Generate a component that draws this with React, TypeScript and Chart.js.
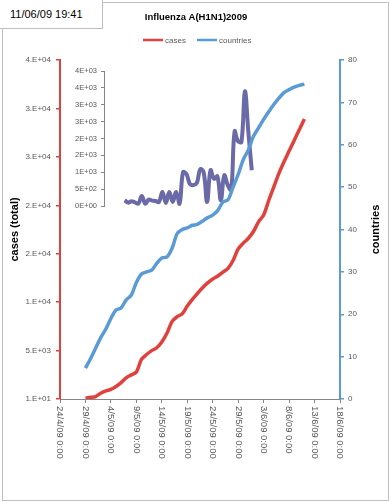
import React, { useEffect, useRef } from "react";
import { Chart, registerables } from "chart.js";

Chart.register(...registerables);

// ---------- data ----------
const dateStamp = "11/06/09 19:41";
const chartTitle = "Influenza A(H1N1)2009";
const seriesNames = ["cases", "countries"];
const leftAxisTitle = "cases (total)";
const rightAxisTitle = "countries";

// x axis: days since 24/4/09
const xTickDays = [0, 5, 10, 15, 20, 25, 30, 35, 40, 45, 50, 55];
const xTickLabels = [
  "24/4/09 0:00", "29/4/09 0:00", "4/5/09 0:00", "9/5/09 0:00",
  "14/5/09 0:00", "19/5/09 0:00", "24/5/09 0:00", "29/5/09 0:00",
  "3/6/09 0:00", "8/6/09 0:00", "13/6/09 0:00", "18/6/09 0:00",
];

const casesTickValues = [10, 5000, 10000, 15000, 20000, 25000, 30000, 35000];
const casesTickLabels = ["1.E+01", "5.E+03", "1.E+04", "2.E+04", "2.E+04", "3.E+04", "3.E+04", "4.E+04"];
const countriesTickValues = [0, 10, 20, 30, 40, 50, 60, 70, 80];
const countriesTickLabels = ["0", "10", "20", "30", "40", "50", "60", "70", "80"];
const insetTickValues = [0, 500, 1000, 1500, 2000, 2500, 3000, 3500, 4000];
const insetTickLabels = ["0E+00", "5E+02", "1E+03", "2E+03", "2E+03", "3E+03", "3E+03", "4E+03", "4E+03"];

// daily series starting 29/4/09 (day 5)
const seriesFirstDay = 5;
const cases = [
  100, 180, 260, 600, 850, 1000, 1300, 1700, 2200, 2500, 2800, 4100, 4600, 5000, 5300,
  5900, 6800, 8000, 8500, 8800, 9600, 10300, 10900, 11500, 12000, 12400, 12700, 13100,
  13500, 14300, 15500, 16100, 16600, 17300, 18300, 19000, 20500, 21900, 23300, 24500,
  25600, 26700, 27800, 28900,
];
const countries = [
  7.3, 9.5, 12, 14.5, 16.5, 19, 21, 21.5, 23.4, 24.5, 27.5, 29.5, 30, 30.4, 32, 33.3,
  33.5, 35.5, 39, 40, 40.4, 41, 41.2, 42, 42.8, 43.4, 44.5, 46.5, 47, 50, 53, 56.5, 58.8,
  62, 64, 66, 67.8, 69.5, 71, 72.3, 73, 73.6, 74, 74.3,
];

// inset: daily new cases starting 30/4/09 (day 6)
const insetFirstDay = 6;
const dailyNewCases = [
  170, 100, 140, 110, 70, 300, 70, 190, 160, 150, 120, 415, 90, 415, 120, 415, 70,
  1000, 950, 650, 620, 680, 1090, 1000, 120, 1060, 810, 880, 170, 910, 620, 480,
  2210, 1920, 1900, 3400, 2200, 1060,
];

// ---------- styles ----------
const RED = "#e2413b";
const BLUE = "#5b9bd5";
const PURPLE = "#6b6aa8";
const AXIS = "#868686";
const TEXT = "#595959";
const FONT = "'Liberation Sans', Arial, sans-serif";

const W = 390;
const H = 503;

const labelFor = (values: number[], labels: string[]) => (v: number | string) => {
  const i = values.indexOf(Number(v));
  return i >= 0 ? labels[i] : "";
};

export default function App() {
  const mainRef = useRef<HTMLCanvasElement | null>(null);
  const insetRef = useRef<HTMLCanvasElement | null>(null);

  useEffect(() => {
    if (!mainRef.current || !insetRef.current) return;

    const decor = {
      id: "decor",
      afterDraw(chart: any) {
        const ctx = chart.ctx as CanvasRenderingContext2D;
        ctx.save();
        // title
        ctx.fillStyle = "#000";
        ctx.font = `bold 9.5px ${FONT}`;
        ctx.textAlign = "center";
        ctx.textBaseline = "middle";
        ctx.fillText(chartTitle, 196, 17);
        // legend
        ctx.font = `8px ${FONT}`;
        ctx.textAlign = "left";
        const legendColors = [RED, BLUE];
        const legendX = [143, 197];
        seriesNames.forEach((name, i) => {
          ctx.strokeStyle = legendColors[i];
          ctx.lineWidth = 2.5;
          ctx.beginPath();
          ctx.moveTo(legendX[i], 40);
          ctx.lineTo(legendX[i] + 20, 40);
          ctx.stroke();
          ctx.fillStyle = TEXT;
          ctx.fillText(name, legendX[i] + 22, 40.5);
        });
        // right axis title (reads bottom to top)
        const area = chart.chartArea;
        ctx.save();
        ctx.translate(376, (area.top + area.bottom) / 2);
        ctx.rotate(-Math.PI / 2);
        ctx.font = `bold 11px ${FONT}`;
        ctx.fillStyle = "#000";
        ctx.textAlign = "center";
        ctx.textBaseline = "middle";
        ctx.fillText(rightAxisTitle, 0, 0);
        ctx.restore();
        // x tick labels rotated clockwise
        const xs = chart.scales.x;
        ctx.font = `9.5px ${FONT}`;
        ctx.fillStyle = TEXT;
        xTickDays.forEach((d, i) => {
          const px = xs.getPixelForValue(d);
          ctx.save();
          ctx.translate(px, xs.top + 7);
          ctx.rotate(Math.PI / 2);
          ctx.textAlign = "left";
          ctx.textBaseline = "middle";
          ctx.fillText(xTickLabels[i], 0, 0);
          ctx.restore();
        });
        ctx.restore();
      },
    };

    const main = new Chart(mainRef.current, {
      type: "line",
      data: {
        datasets: [
          {
            label: seriesNames[0],
            data: cases.map((v, i) => ({ x: seriesFirstDay + i, y: v })),
            yAxisID: "y",
            borderColor: RED,
            backgroundColor: RED,
            borderWidth: 3.5,
            pointRadius: 0,
            tension: 0.3,
          },
          {
            label: seriesNames[1],
            data: countries.map((v, i) => ({ x: seriesFirstDay + i, y: v })),
            yAxisID: "y1",
            borderColor: BLUE,
            backgroundColor: BLUE,
            borderWidth: 3.5,
            pointRadius: 0,
            tension: 0.3,
          },
        ],
      },
      options: {
        animation: false,
        responsive: false,
        events: [],
        layout: { padding: { top: 60, left: 0, right: 0, bottom: 0 } },
        plugins: { legend: { display: false }, title: { display: false }, tooltip: { enabled: false } },
        scales: {
          x: {
            type: "linear",
            min: 0,
            max: 55,
            afterBuildTicks: (s: any) => {
              s.ticks = xTickDays.map((v) => ({ value: v }));
            },
            afterFit: (s: any) => {
              s.height = 104;
            },
            ticks: { display: false },
            grid: { drawOnChartArea: false, color: AXIS, tickLength: 4 },
            border: { color: AXIS, width: 1 },
          },
          y: {
            type: "linear",
            position: "left",
            min: 10,
            max: 35000,
            afterBuildTicks: (s: any) => {
              s.ticks = casesTickValues.map((v) => ({ value: v }));
            },
            afterFit: (s: any) => {
              s.width = 60;
            },
            ticks: {
              callback: labelFor(casesTickValues, casesTickLabels),
              font: { family: FONT, size: 8 },
              color: TEXT,
              padding: 5,
            },
            grid: { drawOnChartArea: false, color: RED, tickLength: 4, lineWidth: 1.5 },
            border: { color: RED, width: 2 },
            title: {
              display: true,
              text: leftAxisTitle,
              color: "#000",
              font: { family: FONT, size: 11, weight: "bold" },
              padding: { top: 8, bottom: 0 },
            },
          },
          y1: {
            type: "linear",
            position: "right",
            min: 0,
            max: 80,
            afterBuildTicks: (s: any) => {
              s.ticks = countriesTickValues.map((v) => ({ value: v }));
            },
            afterFit: (s: any) => {
              s.width = 50;
            },
            ticks: {
              callback: labelFor(countriesTickValues, countriesTickLabels),
              font: { family: FONT, size: 8 },
              color: TEXT,
              padding: 4,
            },
            grid: { drawOnChartArea: false, color: BLUE, tickLength: 4, lineWidth: 1.5 },
            border: { color: BLUE, width: 2 },
          },
        },
      },
      plugins: [decor],
    } as any);

    const inset = new Chart(insetRef.current, {
      type: "line",
      data: {
        datasets: [
          {
            label: "daily",
            data: dailyNewCases.map((v, i) => ({ x: insetFirstDay + i, y: v })),
            borderColor: PURPLE,
            backgroundColor: PURPLE,
            borderWidth: 4,
            pointRadius: 0,
            tension: 0.4,
          },
        ],
      },
      options: {
        animation: false,
        responsive: false,
        events: [],
        layout: { padding: { top: 71, left: 64, right: 97, bottom: 297 } },
        plugins: { legend: { display: false }, title: { display: false }, tooltip: { enabled: false } },
        scales: {
          x: { type: "linear", min: 0, max: 55, display: false },
          y: {
            type: "linear",
            min: 0,
            max: 4000,
            afterBuildTicks: (s: any) => {
              s.ticks = insetTickValues.map((v) => ({ value: v }));
            },
            afterFit: (s: any) => {
              s.width = 40;
            },
            ticks: {
              callback: labelFor(insetTickValues, insetTickLabels),
              font: { family: FONT, size: 7.5 },
              color: TEXT,
              padding: 4,
            },
            grid: { drawOnChartArea: false, color: AXIS, tickLength: 3 },
            border: { color: AXIS, width: 1 },
          },
        },
      },
    } as any);

    return () => {
      main.destroy();
      inset.destroy();
    };
  }, []);

  return (
    <div style={{ position: "absolute", left: 0, top: 0, width: W, height: H, background: "#fff", overflow: "hidden" }}>
      <div
        style={{
          position: "absolute",
          left: 2,
          top: 2,
          width: 385,
          height: 497,
          border: "1px solid #bfbfbf",
        }}
      />
      <canvas ref={insetRef} width={W} height={H} style={{ position: "absolute", left: 0, top: 0 }} />
      <canvas ref={mainRef} width={W} height={H} style={{ position: "absolute", left: 0, top: 0 }} />
      <div
        style={{
          position: "absolute",
          left: 0,
          top: 0,
          width: 103,
          height: 29,
          background: "#fff",
          borderRight: "1px solid #bfbfbf",
          borderBottom: "1px solid #bfbfbf",
          boxSizing: "border-box",
          fontFamily: FONT,
          fontSize: 11,
          lineHeight: "29px",
          paddingLeft: 10,
          color: "#000",
        }}
      >
        {dateStamp}
      </div>
    </div>
  );
}
